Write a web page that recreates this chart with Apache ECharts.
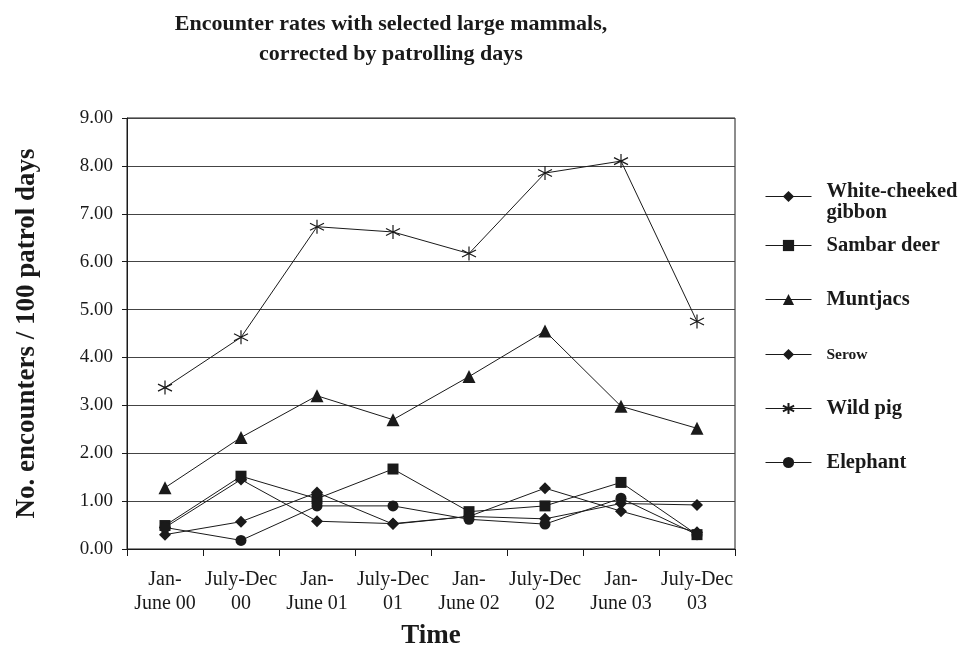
<!DOCTYPE html>
<html>
<head>
<meta charset="utf-8">
<script src="https://cdn.jsdelivr.net/npm/echarts@6/dist/echarts.min.js"></script>
<style>
html,body{margin:0;padding:0;background:#fff;}
#chart{width:962px;height:648px;}
</style>
</head>
<body>
<div id="chart"></div>
<script>
const categories = ["Jan-\nJune 00", "July-Dec\n00", "Jan-\nJune 01", "July-Dec\n01", "Jan-\nJune 02", "July-Dec\n02", "Jan-\nJune 03", "July-Dec\n03"];
const gibbon   = [0.45, 1.45, 0.58, 0.53, 0.68, 0.63, 0.95, 0.92];
const sambar   = [0.49, 1.52, 1.05, 1.67, 0.78, 0.90, 1.39, 0.30];
const muntjacs = [1.28, 2.33, 3.20, 2.70, 3.60, 4.55, 2.98, 2.52];
const serow    = [0.30, 0.57, 1.18, 0.52, 0.68, 1.27, 0.79, 0.35];
const wildPig  = [3.37, 4.42, 6.73, 6.62, 6.17, 7.85, 8.10, 4.75];
const elephant = [0.45, 0.18, 0.90, 0.90, 0.62, 0.52, 1.06, 0.30];
const yTicks = [0, 9, 1];

const FONT = '"Liberation Serif", "DejaVu Serif", serif';
const INK = '#1a1a1a';
const asterisk = 'path://M0,-10 L0,10 M-8.7,-5 L8.7,5 M-8.7,5 L8.7,-5';

const seriesDefs = [
  {name: 'White-cheeked\ngibbon', data: gibbon, symbol: 'diamond', size: 12},
  {name: 'Sambar deer', data: sambar, symbol: 'rect', size: 11},
  {name: 'Muntjacs', data: muntjacs, symbol: 'triangle', size: 13},
  {name: 'Serow', data: serow, symbol: 'diamond', size: 12},
  {name: 'Wild pig', data: wildPig, symbol: asterisk, size: 14},
  {name: 'Elephant', data: elephant, symbol: 'circle', size: 11}
];
const legendTops = [170, 235, 289, 344, 398, 452];
const legendFont = [20.5, 20.5, 20.5, 15.5, 20.5, 20.5];

const chart = echarts.init(document.getElementById('chart'), null, {renderer: 'canvas'});
const option = {
  backgroundColor: '#fff',
  animation: false,
  title: {
    text: 'Encounter rates with selected large mammals,\ncorrected by patrolling days',
    left: 386, top: 4, textAlign: 'center',
    textStyle: {fontFamily: FONT, fontWeight: 'bold', fontSize: 22, color: INK, lineHeight: 30}
  },
  legend: seriesDefs.map((s, i) => {
    const lg = {
      data: [s.name],
      orient: 'vertical',
      left: 765, top: legendTops[i], padding: 0,
      itemWidth: 46, itemHeight: 14, itemGap: 0,
      lineStyle: {width: 1, color: INK},
      textStyle: {fontFamily: FONT, fontWeight: 'bold', fontSize: legendFont[i], color: INK, lineHeight: 21,
        padding: [0, 0, 0, 10]},
      selectedMode: false
    };
    if (i === 0) {
      lg.formatter = n => '{p| }\n{a|' + n.split('\n')[0] + '}\n{a|' + n.split('\n')[1] + '}';
      lg.textStyle.rich = {
        p: {lineHeight: 11, fontSize: 4},
        a: {fontFamily: FONT, fontWeight: 'bold', fontSize: legendFont[0], color: INK, lineHeight: 21}
      };
    }
    return lg;
  }),
  grid: {left: 127, top: 118, width: 608, height: 431, outerBoundsMode: 'none', containLabel: false,
    show: true, borderColor: INK, borderWidth: 1, backgroundColor: 'transparent'},
  xAxis: {
    type: 'category', data: categories, boundaryGap: true,
    name: 'Time', nameLocation: 'middle', nameGap: 74,
    nameTextStyle: {fontFamily: FONT, fontWeight: 'bold', fontSize: 27, color: INK},
    axisLine: {lineStyle: {color: INK, width: 1}},
    axisTick: {show: true, length: 7, lineStyle: {color: INK}},
    axisLabel: {fontFamily: FONT, fontSize: 20, color: INK, lineHeight: 24, margin: 19, interval: 0},
    splitLine: {show: false}
  },
  yAxis: {
    type: 'value', min: yTicks[0], max: yTicks[1], interval: yTicks[2],
    name: 'No. encounters / 100 patrol days', nameLocation: 'middle', nameGap: 86, nameRotate: 90,
    nameTextStyle: {fontFamily: FONT, fontWeight: 'bold', fontSize: 27, color: INK},
    axisLine: {show: true, lineStyle: {color: INK, width: 1}},
    axisTick: {show: true, length: 5, lineStyle: {color: INK}},
    axisLabel: {fontFamily: FONT, fontSize: 19, color: INK, margin: 14, formatter: v => v.toFixed(2)},
    splitLine: {show: true, lineStyle: {color: '#444', width: 1}}
  },
  series: seriesDefs.map(s => ({
    name: s.name, type: 'line', data: s.data,
    symbol: s.symbol, symbolSize: s.size,
    showAllSymbol: true,
    lineStyle: {color: INK, width: 1},
    itemStyle: s.symbol === asterisk
      ? {color: 'rgba(0,0,0,0)', borderColor: INK, borderWidth: 1.2}
      : {color: INK, borderWidth: 0},
    emphasis: {disabled: true}
  }))
};
chart.setOption(option);
</script>
</body>
</html>
